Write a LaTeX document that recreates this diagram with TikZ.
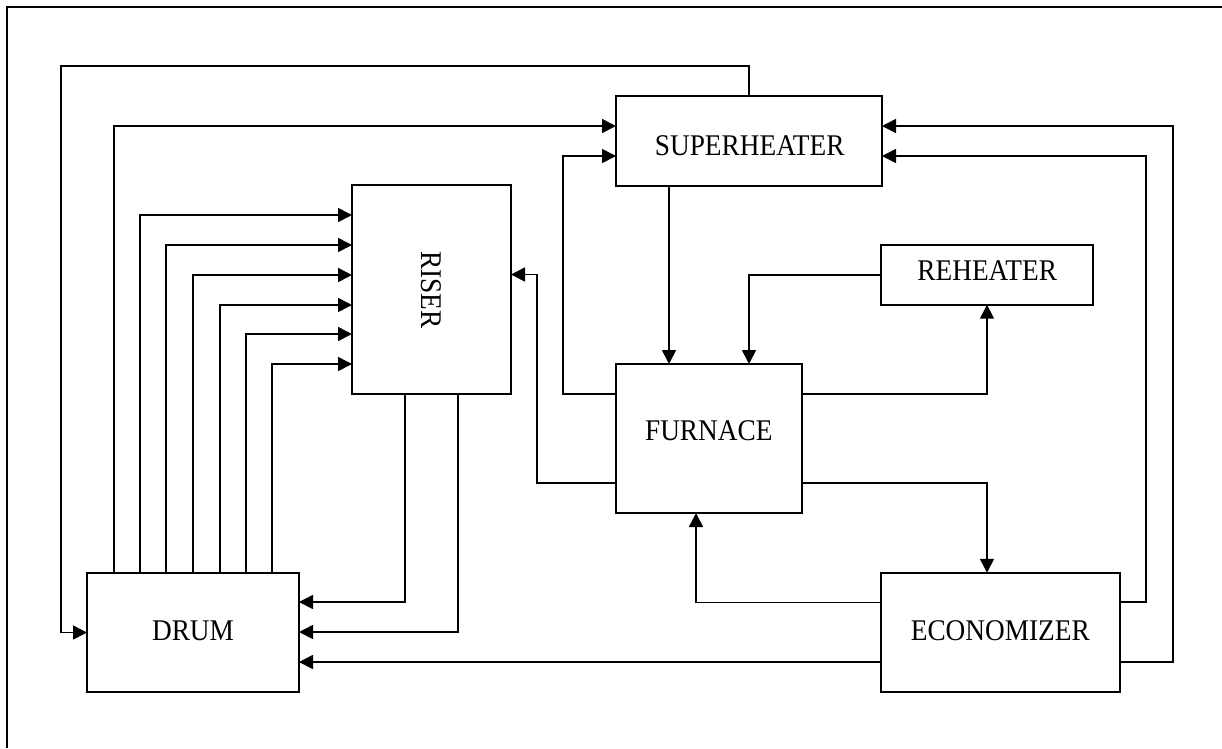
\documentclass[tikz,border=0pt]{standalone}
\usepackage{fontspec}
\setmainfont{Liberation Serif}
\usetikzlibrary{arrows.meta}
\newcommand\tallcaps[1]{\scalebox{1}[1.1]{#1}}
\begin{document}
\begin{tikzpicture}[x=1pt,y=-1pt,
  unit/.style={draw, line width=2pt, rectangle, inner sep=0pt, outer sep=0pt},
  lbl/.style={inner sep=0pt, font=\fontsize{27.3}{30}\selectfont},
  flow/.style={line width=1.6pt, -{Triangle[length=14pt,width=14pt]}},
  frame/.style={line width=2pt}]
\useasboundingbox (0,0) rectangle (1222,748);
\draw[frame] (7,748) -- (7,7) -- (1222,7);

% units of the boiler
\node[unit, minimum width=212pt, minimum height=119pt] (drum) at (193,632.5) {};
\node[unit, minimum width=159pt, minimum height=209pt] (riser) at (431.5,289.5) {};
\node[unit, minimum width=266pt, minimum height=89.5pt] (sh) at (749,140.75) {};
\node[unit, minimum width=186pt, minimum height=149pt] (fur) at (709,438.5) {};
\node[unit, minimum width=212.6pt, minimum height=60pt] (rh) at (987,274.7) {};
\node[unit, minimum width=239.3pt, minimum height=119.3pt] (eco) at (1000.3,632.4) {};

% unit names
\node[lbl] (drumtxt) at (193,630.7) {\tallcaps{DRUM}};
\node[lbl, rotate=-90] (risertxt) at (431.5,290) {\tallcaps{RISER}};
\node[lbl] (shtxt) at (749.7,146) {\tallcaps{SUPERHEATER}};
\node[lbl] (furtxt) at (708.8,431) {\tallcaps{FURNACE}};
\node[lbl] (rhtxt) at (987.2,270.8) {\tallcaps{REHEATER}};
\node[lbl] (ecotxt) at (1000.3,630.8) {\tallcaps{ECONOMIZER}};

% superheater back to drum over the top
\draw[flow] (sh.north) |- (61,66) |- (drum.west);
% drum to superheater
\draw[flow] (114,0 |- drum.north) |- (sh.west |- 0,126);
% drum to riser, six parallel tubes
\foreach \cx/\ry in {140/215,166/245,193/275,220/305,246/334,272/364}
  \draw[flow] (\cx,0 |- drum.north) |- (riser.west |- 0,\ry);
% riser back to drum
\draw[flow] (405,0 |- riser.south) |- (drum.east |- 0,602);
\draw[flow] (458,0 |- riser.south) |- (drum.east |- 0,632);
% economizer to drum
\draw[flow] (eco.west |- 0,662) -- (drum.east |- 0,662);
% furnace to superheater and riser
\draw[flow] (fur.west |- 0,394) -| (563,156) -- (sh.west |- 0,156);
\draw[flow] (fur.west |- 0,483) -| (537,274.5) -- (riser.east |- 0,274.5);
% superheater and reheater into furnace
\draw[flow] (669,0 |- sh.south) -- (669,0 |- fur.north);
\draw[flow] (rh.west) -| (749,0 |- fur.north);
% furnace to reheater and economizer
\draw[flow] (fur.east |- 0,394) -| (rh.south);
\draw[flow] (fur.east |- 0,483) -| (987,0 |- eco.north);
% economizer to furnace
\draw[flow] (eco.west |- 0,602.5) -| (696,0 |- fur.south);
% economizer to superheater
\draw[flow] (eco.east |- 0,602) -| (1146,156) -- (sh.east |- 0,156);
\draw[flow] (eco.east |- 0,662) -| (1173,126) -- (sh.east |- 0,126);
\end{tikzpicture}
\end{document}
